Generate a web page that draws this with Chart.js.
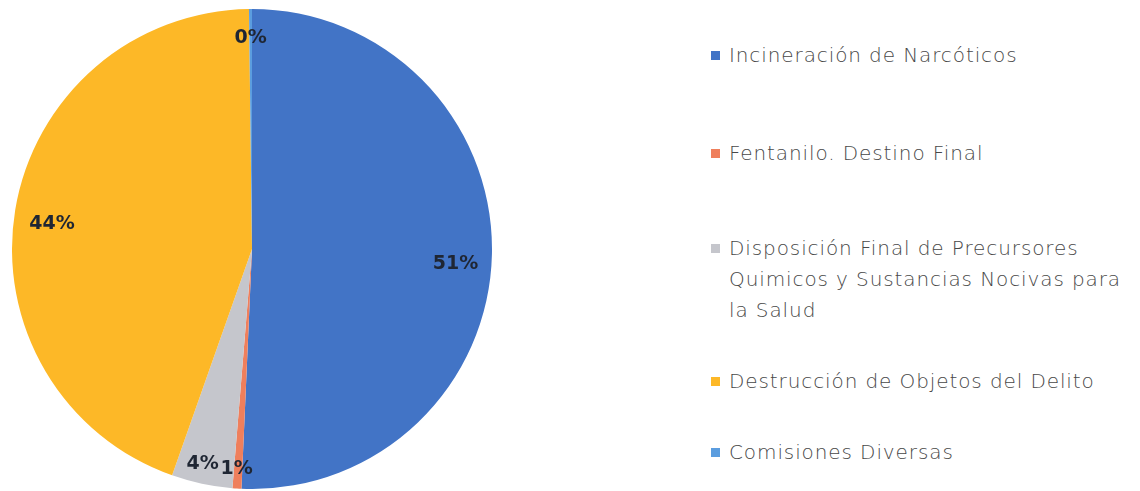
<!DOCTYPE html>
<html lang="es">
<head>
<meta charset="utf-8">
<title>Distribución de actividades</title>
<script src="https://cdn.jsdelivr.net/npm/chart.js@4.4.1/dist/chart.umd.min.js"></script>
<style>
  html, body { margin: 0; padding: 0; background: #ffffff; }
  body { width: 1140px; height: 491px; position: relative; overflow: hidden; }
  #pieBox { position: absolute; left: 12px; top: 9px; width: 480px; height: 480px; }
  #legend { position: absolute; left: 711px; top: 0; width: 429px; height: 491px;
            font-family: "DejaVu Sans", "Open Sans", sans-serif; font-weight: 200; font-size: 20px;
            letter-spacing: 0.9px; color: #484848; }
  .item { position: absolute; left: 0; display: flex; align-items: flex-start; }
  .swatch { width: 9px; height: 9px; margin-top: 11px; margin-right: 9px; flex: none; }
  .text { line-height: 31px; white-space: nowrap; }
</style>
</head>
<body>
<div id="pieBox"><canvas id="pie"></canvas></div>
<div id="legend"></div>
<script>
// Categories and their shares (percent of all activities)
const categories = [
  'Incineración de Narcóticos',
  'Fentanilo. Destino Final',
  ['Disposición Final de Precursores', 'Quimicos y Sustancias Nocivas para', 'la Salud'],
  'Destrucción de Objetos del Delito',
  'Comisiones Diversas'
];
const shares = [50.7, 0.6, 4.1, 44.4, 0.2];
const sliceColors = ['#4274c6', '#ef7f5c', '#c5c6cc', '#fdb827', '#5b9ddf'];

// Vertical centre of the first text line of each legend entry
const legendTops = [55, 153, 248, 381, 452];

// Percentage labels drawn inside each slice
const labelAngleShift = [0.05, 0.007, 0.015, -0.04, 0];  // radians, nudges labels off the mid-angle
const labelRadius = [0.85, 0.92, 0.92, 0.84, 0.88];      // fraction of the outer radius

const sliceLabels = {
  id: 'sliceLabels',
  afterDatasetsDraw(chart) {
    const ctx = chart.ctx;
    const meta = chart.getDatasetMeta(0);
    const data = chart.data.datasets[0].data;
    const total = data.reduce((a, b) => a + b, 0);
    ctx.save();
    ctx.font = 'bold 19px "DejaVu Sans", "Noto Sans", sans-serif';
    ctx.fillStyle = '#1f2633';
    ctx.textAlign = 'center';
    ctx.textBaseline = 'middle';
    meta.data.forEach((arc, i) => {
      const p = arc.getProps(['x', 'y', 'startAngle', 'endAngle', 'outerRadius'], true);
      const pct = Math.round(data[i] / total * 100);
      const mid = (p.startAngle + p.endAngle) / 2 + labelAngleShift[i];
      const r = p.outerRadius * labelRadius[i];
      ctx.fillText(pct + '%', p.x + Math.cos(mid) * r, p.y + Math.sin(mid) * r);
    });
    ctx.restore();
  }
};

const chart = new Chart(document.getElementById('pie'), {
  type: 'pie',
  data: {
    labels: categories,
    datasets: [{
      data: shares,
      backgroundColor: sliceColors,
      borderWidth: 0
    }]
  },
  options: {
    responsive: true,
    maintainAspectRatio: false,
    animation: false,
    layout: { padding: 0 },
    plugins: {
      legend: { display: false },
      tooltip: { enabled: false }
    }
  },
  plugins: [sliceLabels]
});

// HTML legend built from the chart's own labels and colours
const legendEl = document.getElementById('legend');
chart.data.labels.forEach((label, i) => {
  const item = document.createElement('div');
  item.className = 'item';
  item.style.top = (legendTops[i] - 15) + 'px';
  const sw = document.createElement('span');
  sw.className = 'swatch';
  sw.style.background = chart.data.datasets[0].backgroundColor[i];
  const tx = document.createElement('span');
  tx.className = 'text';
  const lines = Array.isArray(label) ? label : [label];
  lines.forEach((ln, k) => {
    if (k) tx.appendChild(document.createElement('br'));
    tx.appendChild(document.createTextNode(ln));
  });
  item.appendChild(sw);
  item.appendChild(tx);
  legendEl.appendChild(item);
});
</script>
</body>
</html>
